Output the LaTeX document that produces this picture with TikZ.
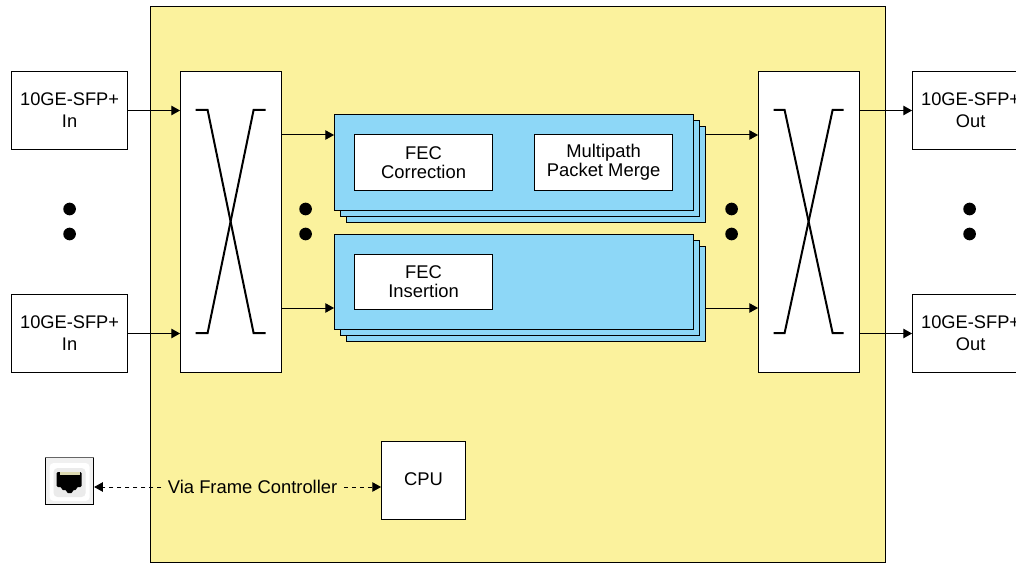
\documentclass[tikz,border=0pt]{standalone}
\usepackage{fontspec}
\setmainfont{Liberation Sans}
\usepackage{xcolor}
\usetikzlibrary{arrows.meta}
\definecolor{framey}{HTML}{FBF29D}
\definecolor{cardb}{HTML}{8DD7F7}
\tikzset{
  >={Triangle[length=6.5pt,width=7pt]},
  port/.style={draw, fill=white, minimum width=87pt, minimum height=58pt, inner sep=0pt, align=center, font=\fontsize{13.7}{16.5}\selectfont},
  swbox/.style={draw, fill=white, minimum width=75.75pt, minimum height=225pt, inner sep=0pt},
  card/.style={draw, fill=cardb, minimum width=269.25pt, minimum height=71.25pt, inner sep=0pt},
  func/.style={draw, fill=white, minimum width=103.5pt, minimum height=41.25pt, inner sep=0pt, align=center, font=\fontsize{13.8}{14.6}\selectfont},
  dotn/.style={circle, fill=black, minimum size=9.5pt, inner sep=0pt},
  link/.style={->, line width=.75pt},
  xline/.style={line width=1.5pt}
}
\begin{document}
\begin{tikzpicture}[x=.75pt, y=-.75pt, line width=.75pt]
\clip (.4,0) rectangle (1016.4,563);
\draw [fill=framey] (151,7) rectangle (886,562.5);
% ports
\node [port] (inA) at (70,110.5) {10GE-SFP+\\In};
\node [port] (inB) at (70,333.5) {10GE-SFP+\\In};
\node [port] (outA) at (971,110.5) {10GE-SFP+\\Out};
\node [port] (outB) at (971,333.5) {10GE-SFP+\\Out};
% switches
\node [swbox] (swL) at (231.5,222) {};
\node [swbox] (swR) at (809.5,222) {};
\draw [xline] (196,110) -- (208,110) -- (254,333) -- (266,333);
\draw [xline] (196,333) -- (208,333) -- (254,110) -- (266,110);
\draw [xline] (774,110) -- (785,110) -- (833,333) -- (844,333);
\draw [xline] (774,333) -- (785,333) -- (833,110) -- (844,110);
% cards
\node [card] (cardAc) at (526.5,174.5) {};
\node [card] (cardAb) at (520.5,168.5) {};
\node [card] (cardA) at (514.5,162.5) {};
\node [card] (cardBc) at (526.5,293.5) {};
\node [card] (cardBb) at (520.5,287.5) {};
\node [card] (cardB) at (514.5,281.5) {};
\node [func] (fecC) at (424,162.5) {FEC\\Correction};
\node [func] (merge) at (604,162.5) {Multipath\\Packet Merge};
\node [func] (fecI) at (424,281.5) {FEC\\Insertion};
% links
\coordinate (swLa) at (282,135);
\coordinate (swLb) at (282,308);
\coordinate (cardAo) at (706,135);
\coordinate (cardBo) at (706,308);
\coordinate (swRa) at (860,110.5);
\coordinate (swRb) at (860,333.5);
\draw [link] (inA.east) -- (inA.east -| swL.west);
\draw [link] (inB.east) -- (inB.east -| swL.west);
\draw [link] (swLa) -- (swLa -| cardA.west);
\draw [link] (swLb) -- (swLb -| cardB.west);
\draw [link] (cardAo) -- (cardAo -| swR.west);
\draw [link] (cardBo) -- (cardBo -| swR.west);
\draw [link] (swRa) -- (outA.west);
\draw [link] (swRb) -- (outB.west);
% dots
\node [dotn] (dotA) at (70,209) {};
\node [dotn] (dotB) at (70,234) {};
\node [dotn] (dotC) at (306,209) {};
\node [dotn] (dotD) at (306,234) {};
\node [dotn] (dotE) at (732,209) {};
\node [dotn] (dotF) at (732,234) {};
\node [dotn] (dotG) at (970,209) {};
\node [dotn] (dotH) at (970,234) {};
% management
\node [draw, fill=white, minimum width=63pt, minimum height=58.5pt, inner sep=0pt, font=\fontsize{13.8}{16}\selectfont] (cpu) at (424,480) {\raisebox{.7pt}{CPU}};
\node [draw, fill=black!6, minimum width=36pt, minimum height=35pt, inner sep=0pt] (jack) at (70,481) {};
\draw [black!60, line width=1pt] (jack.north west) -- (jack.north east);
\fill [white, rounded corners=3pt] (50,463) rectangle (90,501);
\fill [black!8, rounded corners=3pt] (54,468) rectangle (86,497);
\fill [black, rounded corners=1pt] (57,472) -- (82,472) -- (82,487) -- (77,487) -- (77,490) -- (73,490) -- (73,493) -- (67,493) -- (67,490) -- (62,490) -- (62,487) -- (57,487) -- cycle;
\fill [black!45!yellow!35!white] (60,472) rectangle (80,475);
\node [font=\fontsize{13.8}{16}\selectfont, inner xsep=4.5pt, inner ysep=0pt] (via) at (253,487) {Via Frame Controller};
\draw [->, dashed] (via.west) -- (via.west -| jack.east);
\draw [->, dashed] (via.east) -- (via.east -| cpu.west);
\end{tikzpicture}
\end{document}
